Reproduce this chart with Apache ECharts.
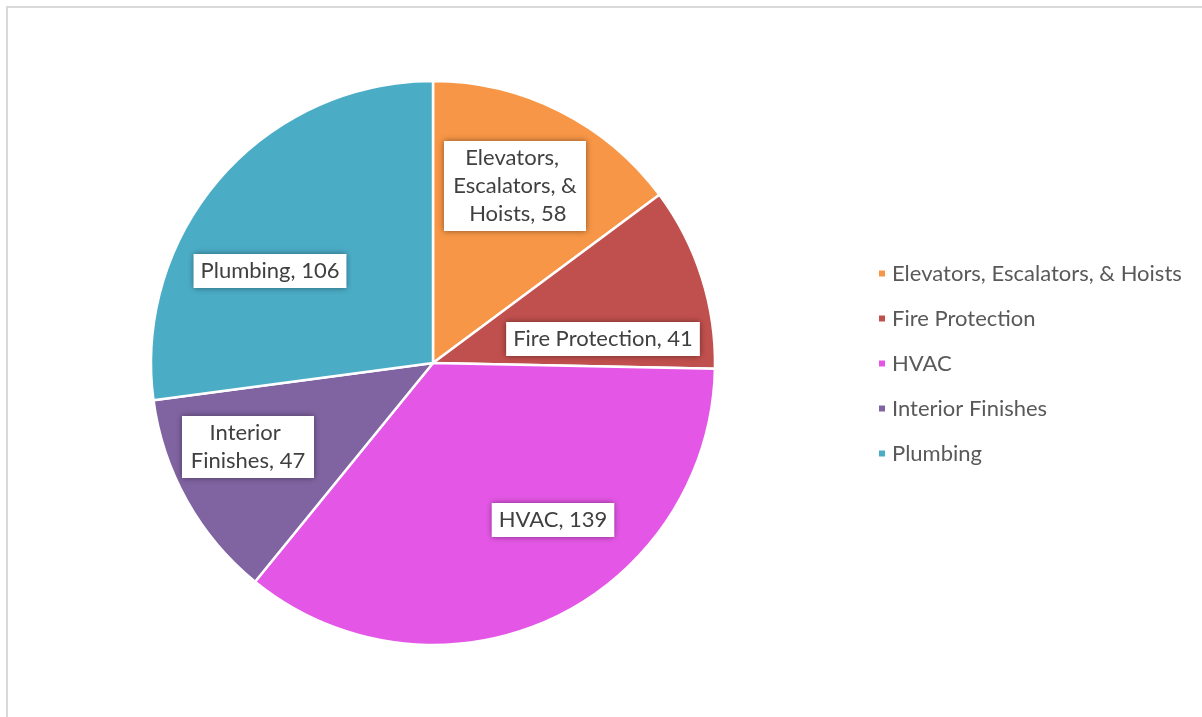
<!DOCTYPE html>
<html>
<head>
<meta charset="utf-8">
<script src="https://cdn.jsdelivr.net/npm/echarts@6/dist/echarts.min.js"></script>
<style>
  html, body { margin: 0; padding: 0; background: #fff; overflow: hidden; }
  #frame {
    position: absolute; left: 6px; top: 6px; width: 1300px; height: 800px;
    border-left: 2px solid #d9d9d9; border-top: 2px solid #d9d9d9;
  }
  #chart { position: absolute; left: 0; top: 0; width: 1202px; height: 717px; }
</style>
</head>
<body>
<div id="frame"></div>
<div id="chart"></div>
<script>
// data
const categories = ["Elevators, Escalators, & Hoists", "Fire Protection", "HVAC", "Interior Finishes", "Plumbing"];
const values = [58, 41, 139, 47, 106];
const colors = ["#f79646", "#c0504d", "#e457e6", "#8064a2", "#4bacc6"];

// where the data-label boxes sit (label centres, px)
const labelSpots = [[515, 186], [603, 339], [553, 520], [248, 447], [270, 271]];
const labelWidths = [128, null, null, 118, null];

const font = "Lato, 'Open Sans', sans-serif";

const chart = echarts.init(document.getElementById("chart"));

const option = {
  animation: false,
  color: colors,
  legend: {
    orient: "vertical",
    left: 872,
    top: 257,
    icon: "rect",
    itemWidth: 8,
    itemHeight: 8,
    itemGap: 22,
    textStyle: {
      color: "#595959",
      fontFamily: font,
      fontSize: 22,
      lineHeight: 23,
      padding: [0, 0, 0, 1]
    },
    data: categories
  },
  series: [
    {
      type: "pie",
      center: [433, 363],
      radius: 282,
      startAngle: 90,
      clockwise: true,
      itemStyle: {
        borderColor: "#fff",
        borderWidth: 2.5
      },
      label: {
        show: true,
        position: "inside",
        formatter: "{b}, {c}",
        color: "#404040",
        fontFamily: font,
        fontSize: 22,
        lineHeight: 28,
        align: "center",
        backgroundColor: "#fff",
        padding: [3, 7],
        shadowBlur: 6,
        shadowColor: "rgba(0,0,0,0.45)",
        overflow: "break"
      },
      labelLine: { show: false },
      labelLayout: function (params) {
        const p = labelSpots[params.dataIndex];
        return { x: p[0], y: p[1] };
      },
      emphasis: { disabled: true },
      data: categories.map(function (name, i) {
        const item = { name: name, value: values[i] };
        if (labelWidths[i]) {
          item.label = { width: labelWidths[i] };
        }
        return item;
      })
    }
  ]
};

chart.setOption(option);
</script>
</body>
</html>
